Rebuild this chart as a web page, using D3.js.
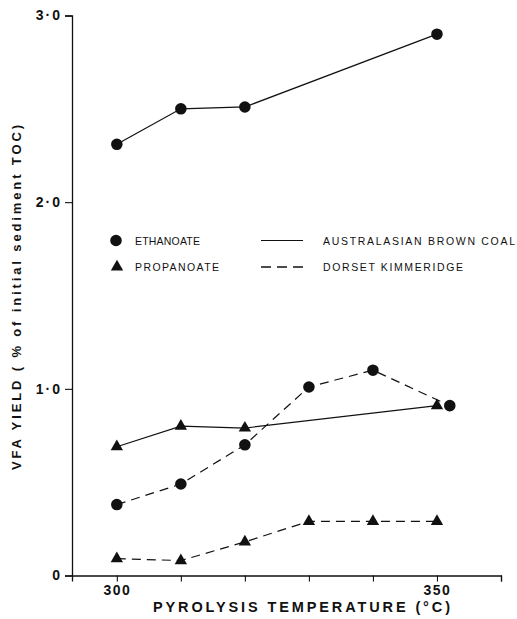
<!DOCTYPE html>
<html>
<head>
<meta charset="utf-8">
<script src="https://cdn.jsdelivr.net/npm/d3@7"></script>
<style>
  html, body { margin: 0; padding: 0; background: #fff; }
  svg { display: block; }
  text { font-family: "Liberation Sans", Arial, Helvetica, sans-serif; fill: #111; }
</style>
</head>
<body>
<svg id="chart" width="517" height="619"></svg>
<script>
// Pyrolysis temperatures (°C) and VFA yields (% of initial sediment TOC)
const coalTemps = [300, 310, 320, 350];
const coalEthanoate = [2.31, 2.50, 2.51, 2.90];
const coalPropanoate = [0.69, 0.80, 0.79, 0.91];

const dorsetEthTemps = [300, 310, 320, 330, 340, 352];
const dorsetEthanoate = [0.38, 0.49, 0.70, 1.01, 1.10, 0.91];
const dorsetPropTemps = [300, 310, 320, 330, 340, 350];
const dorsetPropanoate = [0.09, 0.08, 0.18, 0.29, 0.29, 0.29];

const xTicks = [300, 310, 320, 330, 340, 350, 360];
const xTickLabels = { 300: "300", 350: "350" };
const yTicks = [0, 1, 2, 3];

const svg = d3.select("#chart");
const ink = "#111";

const x = d3.scaleLinear().domain([293, 360]).range([72, 501]);
const y = d3.scaleLinear().domain([0, 3]).range([575.5, 15.5]);

// x axis
const xAxis = svg.append("g")
  .attr("transform", `translate(0,${y(0)})`)
  .call(d3.axisBottom(x).tickValues(xTicks).tickSizeOuter(0).tickSize(6)
    .tickFormat(d => xTickLabels[d] || ""));
xAxis.select(".domain").attr("stroke", ink).attr("stroke-width", 1.3);
xAxis.selectAll(".tick line").attr("stroke", ink).attr("stroke-width", 1.1);
xAxis.selectAll(".tick text")
  .attr("y", 10).attr("dy", "0.71em")
  .style("font-size", "14px").style("font-weight", "bold").style("letter-spacing", "1.5px");

// y axis
const yAxis = svg.append("g")
  .attr("transform", `translate(${x(293)},0)`)
  .call(d3.axisLeft(y).tickValues(yTicks).tickSizeOuter(0).tickSize(7)
    .tickFormat(d => d === 0 ? "0" : d.toFixed(1).replace(".", "\u00B7")));
yAxis.select(".domain").attr("stroke", ink).attr("stroke-width", 1.3);
yAxis.selectAll(".tick text")
  .attr("x", -10)
  .style("font-size", "14px").style("font-weight", "bold").style("letter-spacing", "2px");
yAxis.selectAll(".tick line").attr("stroke", ink).attr("stroke-width", 1.1);

// axis titles
svg.append("text")
  .attr("x", 153).attr("y", 612)
  .attr("textLength", 297).attr("lengthAdjust", "spacing")
  .style("font-size", "14.5px").style("font-weight", "bold")
  .text("PYROLYSIS TEMPERATURE (\u00B0C)");

svg.append("text")
  .attr("transform", "translate(21,470) rotate(-90)")
  .attr("textLength", 345).attr("lengthAdjust", "spacing")
  .style("font-size", "13px").style("font-weight", "bold")
  .text("VFA YIELD ( % of initial sediment TOC)");

// series
const line = d3.line().x(d => x(d[0])).y(d => y(d[1]));
const zip = (a, b) => a.map((v, i) => [v, b[i]]);
const series = [
  { pts: zip(coalTemps, coalEthanoate), dash: null, marker: "circle" },
  { pts: zip(coalTemps, coalPropanoate), dash: null, marker: "triangle" },
  { pts: zip(dorsetEthTemps, dorsetEthanoate), dash: "9,6", marker: "circle" },
  { pts: zip(dorsetPropTemps, dorsetPropanoate), dash: "9,6", marker: "triangle" }
];

const circleSym = d3.symbol().type(d3.symbolCircle).size(105);
const triSym = d3.symbol().type(d3.symbolTriangle).size(66);

series.forEach(s => {
  svg.append("path")
    .attr("d", line(s.pts))
    .attr("fill", "none").attr("stroke", ink).attr("stroke-width", 1.2)
    .attr("stroke-dasharray", s.dash);
  svg.selectAll(null).data(s.pts).enter().append("path")
    .attr("transform", d => `translate(${x(d[0])},${y(d[1])})`)
    .attr("d", s.marker === "circle" ? circleSym : triSym)
    .attr("fill", ink);
});

// legend
const legend = svg.append("g");
legend.append("path").attr("transform", "translate(116,240.5)").attr("d", circleSym).attr("fill", ink);
legend.append("path").attr("transform", "translate(117,267)").attr("d", triSym).attr("fill", ink);
const legendText = (xp, yp, len, str) => legend.append("text")
  .attr("x", xp).attr("y", yp)
  .attr("textLength", len).attr("lengthAdjust", "spacing")
  .style("font-size", "10.5px").text(str);
legendText(135, 244.5, 65, "ETHANOATE");
legendText(135, 271, 84, "PROPANOATE");
legendText(323, 244.5, 192, "AUSTRALASIAN BROWN COAL");
legendText(323, 271, 140, "DORSET KIMMERIDGE");
legend.append("line").attr("x1", 261).attr("x2", 303).attr("y1", 240.5).attr("y2", 240.5)
  .attr("stroke", ink).attr("stroke-width", 1.2);
legend.append("line").attr("x1", 261).attr("x2", 303).attr("y1", 267).attr("y2", 267)
  .attr("stroke", ink).attr("stroke-width", 1.3).attr("stroke-dasharray", "10,6");
</script>
</body>
</html>
